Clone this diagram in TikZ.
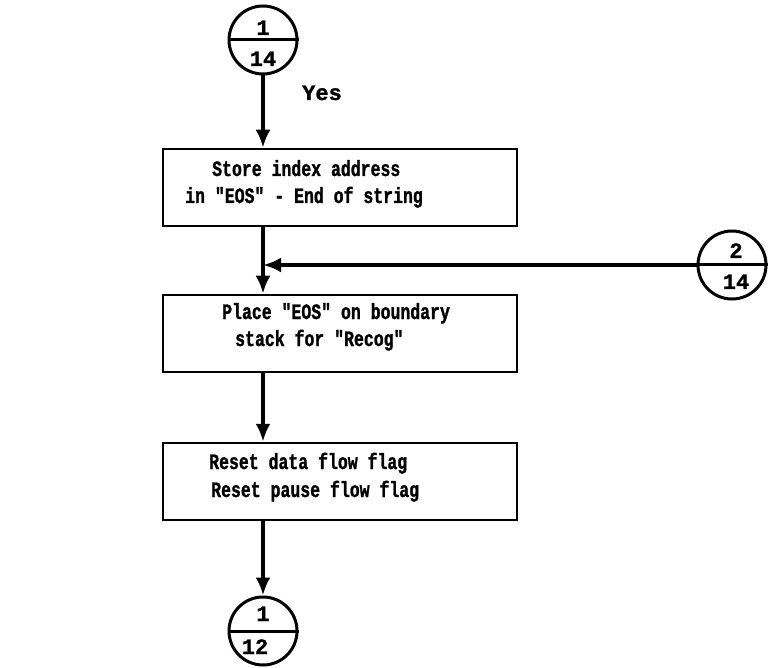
\documentclass[tikz,border=0pt]{standalone}
\usepackage{fontspec}
\usetikzlibrary{arrows.meta}
\newfontfamily\twc[FakeStretch=0.75,FakeBold=1.2]{Liberation Mono Bold}
\newfontfamily\twn[FakeBold=1.2]{Liberation Mono Bold}
\begin{document}
\begin{tikzpicture}[x=1pt,y=-1pt,
  box/.style={draw, line width=2.5pt, minimum width=354pt, minimum height=77pt, inner sep=0pt},
  conn/.style={draw, circle, line width=3pt, minimum size=68pt, inner sep=0pt},
  txt/.style={anchor=base west, inner sep=0pt, font=\twc\fontsize{22}{26}\selectfont},
  num/.style={anchor=base, inner sep=0pt, font=\twn\fontsize{22}{26}\selectfont},
  flow/.style={line width=4pt, -{Latex[length=18pt,width=15pt]}},
  plain/.style={line width=4pt}]
\useasboundingbox (0,0) rectangle (768,668);

% connectors (circles)
\node[conn] (c1) at (263,40) {};
\node[conn] (c2) at (732,265) {};
\node[conn] (c3) at (263,631) {};
\draw[line width=3pt] (c1.west) -- (c1.east);
\draw[line width=3pt] (c2.west) -- (c2.east);
\draw[line width=3pt] (c3.west) -- (c3.east);
\node[num] (c1a) at (263,35) {1};
\node[num] (c1b) at (263,66) {14};
\node[num] (c2a) at (736,258) {2};
\node[num] (c2b) at (736,289) {14};
\node[num] (c3a) at (263,621) {1};
\node[num] (c3b) at (255,654) {12};

% boxes
\node[box] (b1) at (340,187.5) {};
\node[box] (b2) at (340,333.5) {};
\node[box] (b3) at (340,481.5) {};

\node[txt] (t11) at (212,176) {Store index address};
\node[txt] (t12) at (185,203) {in "EOS" - End of string};
\node[txt] (t21) at (222,319) {Place "EOS" on boundary};
\node[txt] (t22) at (235,346) {stack for "Recog"};
\node[txt] (t31) at (209,469) {Reset data flow flag};
\node[txt] (t32) at (211,497) {Reset pause flow flag};

\node[anchor=base west, inner sep=0pt, font=\twn\fontsize{22}{26}\selectfont] (yes) at (302,100) {Yes};

% junction
\coordinate (j) at (c2.west -| c1.south);

% flow lines
\draw[flow] (c1.south) -- (c1.south |- b1.north);
\draw[plain] (b1.south -| j) -- (j);
\draw[flow] (j) -- (j |- b2.north);
\draw[flow] (c2.west) -- (j);
\draw[flow] (b2.south -| j) -- (b3.north -| j);
\draw[flow] (b3.south -| j) -- (c3.north);
\end{tikzpicture}
\end{document}
